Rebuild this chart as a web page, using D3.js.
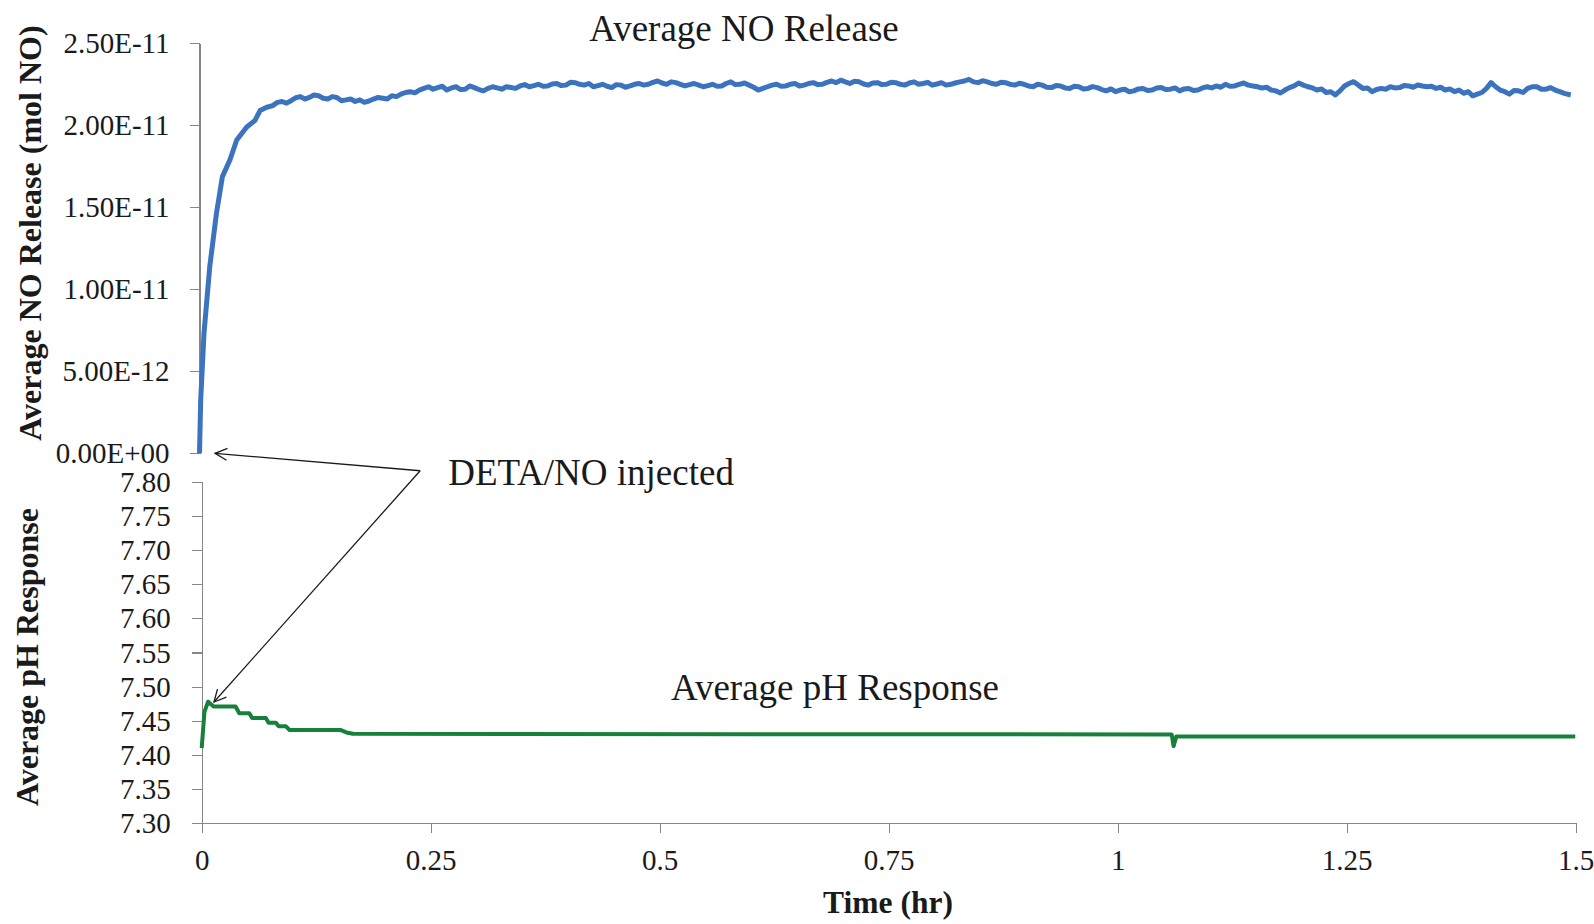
<!DOCTYPE html>
<html>
<head>
<meta charset="utf-8">
<script src="https://cdn.jsdelivr.net/npm/d3@7"></script>
<style>
  body { margin: 0; background: #fff; }
  svg { display: block; font-family: "Liberation Serif", "Times New Roman", serif; }
  .axis path, .axis line { stroke: #868686; stroke-width: 1.3; shape-rendering: crispEdges; }
  .axis text { font-family: "Liberation Serif", serif; font-size: 29px; fill: #1a1a1a; }
  .ylabel { font-size: 32px; font-weight: bold; fill: #1a1a1a; }
  .title { font-size: 37px; fill: #1a1a1a; }
</style>
</head>
<body>
<script>
// NO release, values in units of 1e-11 mol NO
var NO_UNIT = 1e-11;

// initial rise after injection (hr, 1e-11 mol)
var noRiseTime = [0, 0.0013, 0.0049, 0.0112, 0.0185, 0.025, 0.0333, 0.0406, 0.0516, 0.0606, 0.0661, 0.0734];
var noRiseValue = [0, 0.325, 0.732, 1.138, 1.463, 1.687, 1.79, 1.91, 1.99, 2.03, 2.09, 2.11];

// plateau, sampled every 0.005 hr from 0.08 hr
var noPlateauStart = 0.08, noPlateauStep = 0.005;
var noPlateauValue = [
  2.12, 2.14, 2.145, 2.135, 2.15, 2.168, 2.175, 2.16, 2.17, 2.185,
  2.18, 2.165, 2.16, 2.175, 2.17, 2.15, 2.155, 2.16, 2.145, 2.155,
  2.14, 2.148, 2.16, 2.17, 2.165, 2.16, 2.18, 2.175, 2.19, 2.2,
  2.205, 2.198, 2.215, 2.225, 2.235, 2.22, 2.23, 2.238, 2.215, 2.228,
  2.235, 2.218, 2.22, 2.24, 2.23, 2.218, 2.21, 2.225, 2.235, 2.228,
  2.22, 2.235, 2.23, 2.225, 2.24, 2.248, 2.235, 2.242, 2.25, 2.238,
  2.24, 2.252, 2.255, 2.242, 2.245, 2.262, 2.26, 2.25, 2.245, 2.255,
  2.235, 2.242, 2.25, 2.238, 2.23, 2.248, 2.245, 2.232, 2.24, 2.25,
  2.255, 2.245, 2.25, 2.262, 2.27, 2.258, 2.25, 2.265, 2.26, 2.25,
  2.24, 2.248, 2.255, 2.245, 2.235, 2.242, 2.25, 2.238, 2.24, 2.255,
  2.265, 2.248, 2.25, 2.258, 2.245, 2.232, 2.215, 2.225, 2.235, 2.245,
  2.25, 2.238, 2.24, 2.25, 2.255, 2.24, 2.245, 2.255, 2.26, 2.248,
  2.25, 2.262, 2.27, 2.26, 2.275, 2.265, 2.255, 2.268, 2.265, 2.252,
  2.245, 2.258, 2.26, 2.248, 2.25, 2.262, 2.26, 2.25, 2.245, 2.258,
  2.265, 2.25, 2.255, 2.262, 2.245, 2.252, 2.26, 2.245, 2.25, 2.258,
  2.265, 2.27, 2.28, 2.265, 2.26, 2.272, 2.265, 2.255, 2.25, 2.262,
  2.26, 2.25, 2.245, 2.256, 2.25, 2.24, 2.235, 2.25, 2.245, 2.232,
  2.23, 2.242, 2.24, 2.228, 2.225, 2.238, 2.235, 2.222, 2.225, 2.236,
  2.23, 2.218, 2.21, 2.222, 2.205, 2.215, 2.22, 2.205, 2.21, 2.222,
  2.225, 2.212, 2.215, 2.228, 2.23, 2.218, 2.22, 2.228, 2.21, 2.222,
  2.225, 2.212, 2.215, 2.228, 2.235, 2.228, 2.24, 2.232, 2.25, 2.238,
  2.24, 2.25, 2.258, 2.245, 2.24, 2.235, 2.227, 2.232, 2.215, 2.21,
  2.197, 2.215, 2.23, 2.24, 2.258, 2.245, 2.235, 2.228, 2.215, 2.222,
  2.2, 2.205, 2.185, 2.21, 2.24, 2.255, 2.266, 2.245, 2.225, 2.228,
  2.205, 2.218, 2.225, 2.22, 2.235, 2.228, 2.23, 2.242, 2.24, 2.232,
  2.246, 2.24, 2.235, 2.238, 2.225, 2.232, 2.215, 2.222, 2.205, 2.215,
  2.195, 2.205, 2.18, 2.19, 2.2, 2.225, 2.26, 2.235, 2.215, 2.205,
  2.19, 2.212, 2.21, 2.2, 2.225, 2.235, 2.235, 2.22, 2.22, 2.23,
  2.215, 2.205, 2.195
];
var noEndTime = 1.497, noEndValue = 2.185;

// pH response
var phTime = [0, 0.003, 0.007, 0.013, 0.037, 0.041, 0.052, 0.055, 0.070, 0.073, 0.081, 0.084,
  0.092, 0.096, 0.152, 0.158, 0.165, 1.059, 1.061, 1.064, 1.4995];
var phValue = [7.41, 7.463, 7.478, 7.471, 7.471, 7.461, 7.461, 7.454, 7.454, 7.447, 7.447, 7.442,
  7.442, 7.4365, 7.4365, 7.433, 7.431, 7.430, 7.413, 7.427, 7.427];

// ticks
var timeTicks = [0, 0.25, 0.5, 0.75, 1, 1.25, 1.5];
var noTicks = [0, 5e-12, 1e-11, 1.5e-11, 2e-11, 2.5e-11];
var phTicks = [7.30, 7.35, 7.40, 7.45, 7.50, 7.55, 7.60, 7.65, 7.70, 7.75, 7.80];

// annotation arrow ends: [time, value] in the panel's units
var injectLabel = "DETA/NO injected";
var injectFrom = [0.2385, 7.816];   // pH panel coords
var injectToNO = [0.017, 0];        // NO panel coords
var injectToPH = [0.0134, 7.4775];  // pH panel coords

var noData = noRiseTime.map(function (t, i) { return { t: t, v: noRiseValue[i] * NO_UNIT }; });
noPlateauValue.forEach(function (v, i) {
  noData.push({ t: noPlateauStart + i * noPlateauStep, v: v * NO_UNIT });
});
noData.push({ t: noEndTime, v: noEndValue * NO_UNIT });
var phData = phTime.map(function (t, i) { return { t: t, v: phValue[i] }; });

var svg = d3.select("body").append("svg")
  .attr("width", 1594)
  .attr("height", 924);

svg.append("rect").attr("width", 1594).attr("height", 924).attr("fill", "#fff");

var xTop = d3.scaleLinear().domain([0, 1.5]).range([199.5, 1573.5]);
var xBot = d3.scaleLinear().domain([0, 1.5]).range([201.7, 1575.7]);
var yNO = d3.scaleLinear().domain([0, 2.5e-11]).range([453.3, 43.3]);
var yPH = d3.scaleLinear().domain([7.30, 7.80]).range([823.3, 481.7]);

function sci(v) {
  if (v === 0) return "0.00E+00";
  var e = Math.floor(Math.log10(v) + 1e-9);
  var m = v / Math.pow(10, e);
  var ae = Math.abs(e);
  return m.toFixed(2) + "E" + (e < 0 ? "-" : "+") + (ae < 10 ? "0" : "") + ae;
}

// top panel axis
svg.append("g")
  .attr("class", "axis")
  .attr("transform", "translate(" + xTop(0) + ",0)")
  .call(d3.axisLeft(yNO).tickValues(noTicks).tickFormat(sci).tickSize(10).tickSizeOuter(0).tickPadding(20))
  .selectAll("text").attr("dy", "0.33em");

// bottom panel axes
svg.append("g")
  .attr("class", "axis")
  .attr("transform", "translate(" + xBot(0) + ",0)")
  .call(d3.axisLeft(yPH).tickValues(phTicks).tickFormat(function (d) { return d.toFixed(2); })
    .tickSize(10).tickSizeOuter(0).tickPadding(21))
  .selectAll("text").attr("dy", "0.33em");

svg.append("g")
  .attr("class", "axis")
  .attr("transform", "translate(0," + yPH(7.30) + ")")
  .call(d3.axisBottom(xBot).tickValues(timeTicks).tickFormat(d3.format("")).tickSize(10).tickSizeOuter(0).tickPadding(16))
  .selectAll("text").attr("dy", "0.71em");

// lines
svg.append("path")
  .datum(noData)
  .attr("fill", "none")
  .attr("stroke", "#3c73be")
  .attr("stroke-width", 5)
  .attr("stroke-linejoin", "round")
  .attr("d", d3.line().x(function (d) { return xTop(d.t); }).y(function (d) { return yNO(d.v); }));

svg.append("path")
  .datum(phData)
  .attr("fill", "none")
  .attr("stroke", "#17813b")
  .attr("stroke-width", 4)
  .attr("stroke-linejoin", "round")
  .attr("d", d3.line().x(function (d) { return xBot(d.t); }).y(function (d) { return yPH(d.v); }));

// axis titles
svg.append("text")
  .attr("class", "ylabel")
  .attr("transform", "translate(41,233) rotate(-90)")
  .style("text-anchor", "middle")
  .text("Average NO Release (mol NO)");

svg.append("text")
  .attr("class", "ylabel")
  .attr("transform", "translate(38,657) rotate(-90)")
  .style("text-anchor", "middle")
  .text("Average pH Response");

svg.append("text")
  .attr("class", "ylabel")
  .attr("x", 888)
  .attr("y", 913)
  .style("text-anchor", "middle")
  .style("font-size", "31.5px")
  .text("Time (hr)");

// series titles
svg.append("text")
  .attr("class", "title")
  .attr("x", 744)
  .attr("y", 41)
  .style("text-anchor", "middle")
  .text("Average NO Release");

svg.append("text")
  .attr("class", "title")
  .attr("x", 835)
  .attr("y", 700)
  .style("text-anchor", "middle")
  .text("Average pH Response");

// annotation
svg.append("defs").append("marker")
  .attr("id", "arrow")
  .attr("viewBox", "0 0 14 14")
  .attr("refX", 13)
  .attr("refY", 7)
  .attr("markerWidth", 14)
  .attr("markerHeight", 14)
  .attr("markerUnits", "userSpaceOnUse")
  .attr("orient", "auto")
  .append("path")
  .attr("d", "M1,1 L13,7 L1,13")
  .attr("fill", "none")
  .attr("stroke", "#1a1a1a")
  .attr("stroke-width", 1.3);

var fx = xBot(injectFrom[0]), fy = yPH(injectFrom[1]);
svg.append("line")
  .attr("x1", fx).attr("y1", fy)
  .attr("x2", xTop(injectToNO[0])).attr("y2", yNO(injectToNO[1]))
  .attr("stroke", "#1a1a1a").attr("stroke-width", 1.3)
  .attr("marker-end", "url(#arrow)");
svg.append("line")
  .attr("x1", fx).attr("y1", fy)
  .attr("x2", xBot(injectToPH[0])).attr("y2", yPH(injectToPH[1]))
  .attr("stroke", "#1a1a1a").attr("stroke-width", 1.3)
  .attr("marker-end", "url(#arrow)");

svg.append("text")
  .attr("class", "title")
  .attr("x", fx + 28)
  .attr("y", 485)
  .text(injectLabel);
</script>
</body>
</html>
